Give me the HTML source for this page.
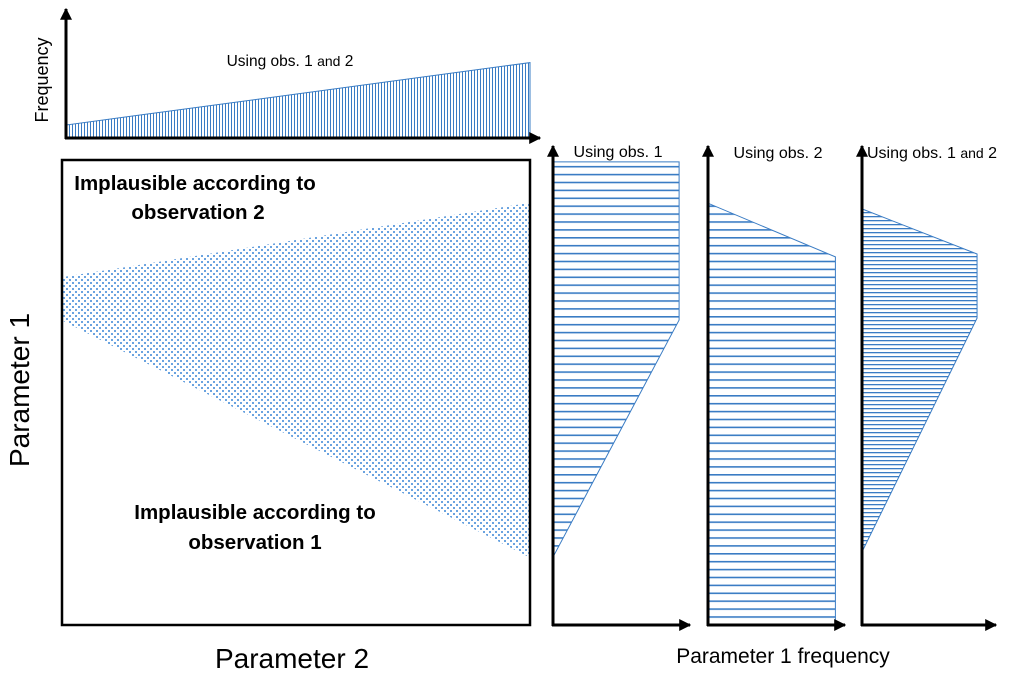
<!DOCTYPE html>
<html><head><meta charset="utf-8"><style>
html,body{margin:0;padding:0;background:#fff;}
svg{display:block;font-family:"Liberation Sans",Calibri,sans-serif;}
</style></head><body>
<svg id="c" width="1009" height="677" viewBox="0 0 1009 677" xmlns="http://www.w3.org/2000/svg">
<defs>
<marker id="ar" viewBox="0 0 10 10" refX="9" refY="5" markerWidth="4" markerHeight="4" orient="auto"><path d="M0,0L10,5L0,10z" fill="#000"/></marker>
<pattern id="vh" width="3" height="10" patternUnits="userSpaceOnUse"><rect width="3" height="10" fill="#fff"/><rect x="0" width="1" height="10" fill="#3a7cc4"/></pattern>
<pattern id="hh8" width="10" height="7.9" patternUnits="userSpaceOnUse"><rect width="10" height="7.9" fill="#fff"/><rect y="0" width="10" height="1.6" fill="#3a7cc4"/></pattern>
<pattern id="hh4" width="10" height="4" patternUnits="userSpaceOnUse"><rect width="10" height="4" fill="#fff"/><rect y="0" width="10" height="1.3" fill="#3a7cc4"/></pattern>
<pattern id="dots" width="6" height="6" patternUnits="userSpaceOnUse"><rect x="0" y="0" width="2" height="2" fill="#6aa3e0"/><rect x="3" y="3" width="2" height="2" fill="#6aa3e0"/></pattern>
</defs>
<g id="g"></g>
<text x="290" y="66" font-size="15.5" text-anchor="middle">Using obs. 1 <tspan font-size="14">and</tspan> 2</text>
<text transform="translate(48,80) rotate(-90)" font-size="18" text-anchor="middle">Frequency</text>
<text x="195" y="190" font-size="20.5" font-weight="bold" text-anchor="middle">Implausible according to</text>
<text x="198" y="219" font-size="20.5" font-weight="bold" text-anchor="middle">observation 2</text>
<text x="255" y="519" font-size="20.5" font-weight="bold" text-anchor="middle">Implausible according to</text>
<text x="255" y="549" font-size="20.5" font-weight="bold" text-anchor="middle">observation 1</text>
<text transform="translate(29,390) rotate(-90)" font-size="28" text-anchor="middle">Parameter 1</text>
<text x="292" y="668" font-size="28" text-anchor="middle">Parameter 2</text>
<text x="783" y="663" font-size="21" text-anchor="middle">Parameter 1 frequency</text>
<text x="618" y="157" font-size="16" text-anchor="middle">Using obs. 1</text>
<text x="778" y="158" font-size="16" text-anchor="middle">Using obs. 2</text>
<text x="932" y="158" font-size="16" text-anchor="middle">Using obs. 1 <tspan font-size="14">and</tspan> 2</text>
</svg>
<script>
// Top panel: frequency vs parameter 2
const topParam2 = [0, 1];
const topFreq = [0.10, 0.58];
// Main panel plausible wedge: parameter 2 positions, lower/upper parameter 1 bounds
const wedgeP2 = [0, 1];
const wedgeLow = [0.655, 0.145];
const wedgeHigh = [0.748, 0.908];
// Side panels: param1 levels and frequency values outlining each distribution
const p1X = [0, 0.143, 0.642, 0.975];
const p1F = [0, 0, 0.97, 0.97];
const p2X = [0, 0.775, 0.888];
const p2F = [0.98, 0.98, 0];
const p3X = [0.154, 0.646, 0.781, 0.876];
const p3F = [0, 0.885, 0.885, 0];

const NS = 'http://www.w3.org/2000/svg';
const g = document.getElementById('g');
function mk(tag, attrs) { const e = document.createElementNS(NS, tag); for (const k in attrs) e.setAttribute(k, attrs[k]); g.appendChild(e); return e; }

// top axes
const tx = v => 66 + v * 464, ty = f => 138 - f * 130;
let pts = [[tx(0), ty(0)]];
topParam2.forEach((v, i) => pts.push([tx(v), ty(topFreq[i])]));
pts.push([tx(1), ty(0)]);
let e = mk('polygon', { points: pts.join(' '), fill: 'url(#vh)', stroke: '#3a7cc4', 'stroke-width': 1 });


e = mk('line', { x1: 66, y1: 139, x2: 66, y2: 9, stroke: '#000', 'stroke-width': 3, 'marker-end': 'url(#ar)' });


e = mk('line', { x1: 65, y1: 138, x2: 540, y2: 138, stroke: '#000', 'stroke-width': 3, 'marker-end': 'url(#ar)' });



// main panel
const mx = v => 62 + v * 468, my = p => 625 - p * 465;
pts = [];
wedgeP2.forEach((v, i) => pts.push([mx(v), my(wedgeHigh[i])]));
for (let i = wedgeP2.length - 1; i >= 0; i--) pts.push([mx(wedgeP2[i]), my(wedgeLow[i])]);
e = mk('polygon', { points: pts.join(' '), fill: 'url(#dots)' });


e = mk('rect', { x: 62, y: 160, width: 468, height: 465, fill: 'none', stroke: '#000', 'stroke-width': 2.5 });



// side panels
const py = p => 625 - p * 475;
function panel(ox, xs, fs, pat, name, axEnd) {
  const fx = f => ox + f * 130;
  const pp = [[fx(0), py(xs[0])]];
  xs.forEach((p, i) => pp.push([fx(fs[i]), py(p)]));
  pp.push([fx(0), py(xs[xs.length - 1])]);
  let el = mk('polygon', { points: pp.join(' '), fill: 'url(#' + pat + ')', stroke: '#3a7cc4', 'stroke-width': 1 });
  
  
  el = mk('line', { x1: ox, y1: 626, x2: ox, y2: 146, stroke: '#000', 'stroke-width': 3, 'marker-end': 'url(#ar)' });
  
  
  el = mk('line', { x1: ox - 1, y1: 625, x2: axEnd, y2: 625, stroke: '#000', 'stroke-width': 3, 'marker-end': 'url(#ar)' });
  
  
}
panel(553, p1X, p1F, 'hh8', 'panel1', 690);
panel(708, p2X, p2F, 'hh8', 'panel2', 845);
panel(862, p3X, p3F, 'hh4', 'panel3', 996);
</script>
</body></html>
